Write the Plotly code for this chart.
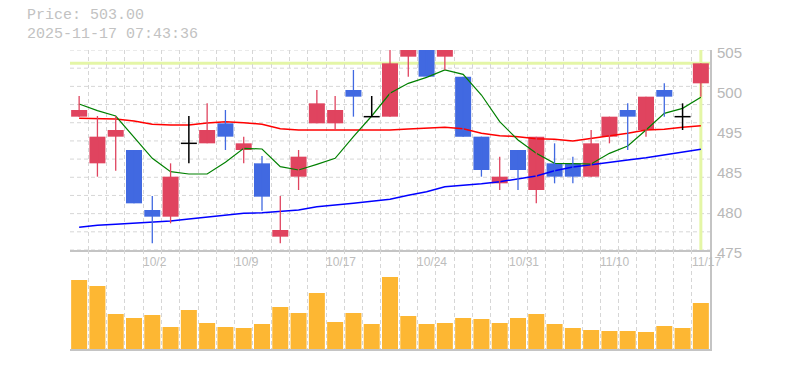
import plotly.graph_objects as go

# ---------------- data ----------------
dates = ["9/26", "9/29", "9/30", "10/1", "10/2", "10/3", "10/6", "10/7", "10/8", "10/9",
         "10/10", "10/14", "10/15", "10/16", "10/17", "10/20", "10/21", "10/22", "10/23", "10/24",
         "10/27", "10/28", "10/29", "10/30", "10/31", "11/4", "11/5", "11/6", "11/7", "11/10",
         "11/11", "11/12", "11/13", "11/14", "11/17"]
label_dates = ["10/2", "10/9", "10/17", "10/24", "10/31", "11/10", "11/17"]

open_ = [495, 488, 492, 490, 481, 480, 491, 491, 494, 490,
         488, 477, 486, 494, 494, 499, 495, 495, 504, 505,
         504, 501, 492, 485, 490, 484, 488, 488, 486, 492,
         496, 493, 499, 495, 500]
high = [498.1, 495.1, 495.1, 490, 483.1, 488, 495.1, 497, 496, 492,
        489.1, 483.1, 490, 499, 498.1, 502, 498.1, 505, 506, 505,
        505, 501, 492, 489, 490, 492, 491, 489, 493, 495,
        497, 498, 500, 497, 503]
low = [495, 486, 486.9, 482, 476, 479, 488, 491, 490, 488,
       480.9, 476, 484, 494, 493, 495, 495, 495, 501, 501,
       502, 492, 486, 484, 484, 482, 485, 485, 486, 491,
       490, 492, 495, 493, 498]
close = [496, 492, 493, 482, 480, 486, 491, 493, 492, 491,
         483, 478, 489, 497, 496, 498, 495, 503, 506, 501,
         505, 492, 487, 486, 487, 492, 486, 486, 491, 495,
         495, 498, 498, 495, 503]

ma5 = [496.9, 495.9, 495.1, 492.0, 488.75, 486.75, 486.4, 486.4, 488.15, 490.25,
       490.15, 487.5, 487.0, 487.85, 488.75, 492.0, 495.1, 498.5, 500.0, 500.9,
       502.0, 501.35, 498.25, 494.25, 491.5, 489.5, 488.0, 487.95, 487.9, 489.5,
       490.6, 493.0, 495.5, 496.25, 497.9]
ma25 = [494.75, 494.75, 494.65, 494.35, 493.85, 493.75, 493.75, 494.05, 494.25, 494.1,
        493.85, 493.2, 493.0, 493.0, 493.0, 492.95, 492.9, 493.0, 493.15, 493.3,
        493.4, 493.2, 492.5, 492.15, 492.0, 491.7, 491.6, 491.35, 491.7, 492.15,
        492.5, 493.0, 493.1, 493.4, 493.65]
ma75 = [478.4, 478.7, 478.85, 479.0, 479.15, 479.35, 479.65, 479.9, 480.25, 480.5,
        480.6, 480.85, 481.0, 481.5, 481.7, 482.0, 482.3, 482.6, 483.2, 483.75,
        484.5, 484.7, 484.95, 485.25, 485.7, 486.1, 486.9, 487.45, 487.8, 488.1,
        488.5, 488.85, 489.25, 489.6, 490.1]

volume = [69000, 63000, 35000, 31000, 34000, 22000, 39000, 26000, 22000, 21000,
          25000, 42000, 36000, 56000, 27000, 36000, 25000, 72000, 33000, 25000,
          26000, 31000, 30000, 26000, 31000, 35000, 25000, 21000, 19000, 18000,
          18000, 17000, 23000, 21000, 46000]

price_ticks = [505, 499, 493, 487, 481, 475]
price_tick_text = ["505", "500", "495", "485", "480", "475"]
timestamp = "2025-11-17 07:43:36"

# ---------------- styles ----------------
UP = "#e0445f"
DOWN = "#4169e1"
DOJI = "#000000"
VOL = "#fdb733"
GRID = "#d6d6d6"
AXIS = "#c4c4c4"
LAST = "#e4f6a6"
BODY_W = 0.875

n = len(dates)
xs = list(range(n))
PMIN, PMAX = 475, 505
VMAX = 99000

fig = go.Figure()

# moving averages
fig.add_trace(go.Scatter(x=xs, y=ma75, mode="lines", line=dict(color="#0000ff", width=1.5),
                         cliponaxis=False, hoverinfo="skip", xaxis="x", yaxis="y"))
fig.add_trace(go.Scatter(x=xs, y=ma25, mode="lines", line=dict(color="#ff0000", width=1.5),
                         cliponaxis=False, hoverinfo="skip", xaxis="x", yaxis="y"))
fig.add_trace(go.Scatter(x=xs, y=ma5, mode="lines", line=dict(color="#008000", width=1.2),
                         cliponaxis=False, hoverinfo="skip", xaxis="x", yaxis="y"))

# candles
groups = {"up": [], "down": [], "doji": []}
for i in xs:
    if close[i] > open_[i]:
        groups["up"].append(i)
    elif close[i] < open_[i]:
        groups["down"].append(i)
    else:
        groups["doji"].append(i)

for key, color in (("up", UP), ("down", DOWN)):
    idx = groups[key]
    wx, wy = [], []
    for i in idx:
        wx += [i, i, None]
        wy += [low[i], high[i], None]
    fig.add_trace(go.Scatter(x=wx, y=wy, mode="lines", line=dict(color=color, width=1.3),
                             cliponaxis=False, hoverinfo="skip", xaxis="x", yaxis="y"))
    fig.add_trace(go.Bar(x=idx,
                         y=[abs(close[i] - open_[i]) for i in idx],
                         base=[min(open_[i], close[i]) for i in idx],
                         width=BODY_W, marker=dict(color=color, line=dict(width=0)),
                         cliponaxis=False, hoverinfo="skip", xaxis="x", yaxis="y"))

dx, dy = [], []
for i in groups["doji"]:
    dx += [i, i, None, i - BODY_W / 2, i + BODY_W / 2, None]
    dy += [low[i], high[i], None, open_[i], open_[i], None]
fig.add_trace(go.Scatter(x=dx, y=dy, mode="lines", line=dict(color=DOJI, width=1.5),
                         cliponaxis=False, hoverinfo="skip", xaxis="x", yaxis="y"))

# volume
fig.add_trace(go.Bar(x=xs, y=volume, width=BODY_W, marker=dict(color=VOL, line=dict(width=0)),
                     hoverinfo="skip", xaxis="x2", yaxis="y2"))

# ---------------- layout ----------------
# page body has an 8px margin, so offsets are reduced by 8px
L, T, PW, PH = 62, 42, 640, 299
boundaries = [i - 0.5 for i in range(n + 1)]
vol_frac = 99 / PH

shapes = []
for k in range(12):
    yv = PMAX - k * (PMAX - PMIN) / 11
    shapes.append(dict(type="line", xref="x", yref="y", x0=-0.5, x1=n - 0.5, y0=yv, y1=yv,
                       line=dict(color=GRID, width=1, dash="4px,3px"), layer="below"))
shapes.append(dict(type="line", xref="x", yref="y", x0=-0.5, x1=n - 0.5,
                   y0=close[-1], y1=close[-1], line=dict(color=LAST, width=3), layer="below"))
shapes.append(dict(type="line", xref="x", yref="y", x0=n - 1, x1=n - 1,
                   y0=PMIN, y1=PMAX, line=dict(color=LAST, width=3), layer="below"))

title_font = dict(family="Liberation Mono, monospace", size=15, color="#c2c2c2")
annotations = [
    dict(text=f"Price: {close[-1]:.2f}", xref="paper", yref="paper", x=-44 / PW, y=(PH + 25) / PH,
         xanchor="left", yanchor="bottom", borderpad=0, showarrow=False, font=title_font),
    dict(text=timestamp, xref="paper", yref="paper", x=-44 / PW, y=(PH + 25) / PH,
         xanchor="left", yanchor="top", borderpad=0, showarrow=False, font=title_font),
]
for d in label_dates:
    i = dates.index(d)
    annotations.append(dict(text=d, xref="x2", yref="y2 domain", x=i - 0.5, y=1,
                            xanchor="left", yanchor="top", xshift=-2, yshift=-3, showarrow=False,
                            font=dict(family="Liberation Sans, Arial, sans-serif", size=12,
                                      color="#bdbdbd")))

axis_x_common = dict(range=[-0.5, n - 0.5], tickmode="array", tickvals=boundaries,
                     showticklabels=False, ticks="", showgrid=True, gridcolor=GRID,
                     griddash="4px,3px", gridwidth=1, zeroline=False, showline=True,
                     linecolor=AXIS, linewidth=2, fixedrange=True)

fig.update_layout(
    width=785, height=370,
    margin=dict(l=L, r=785 - L - PW, t=T, b=370 - T - PH, autoexpand=False),
    paper_bgcolor="white", plot_bgcolor="white",
    showlegend=False, barmode="overlay", hovermode=False,
    xaxis=dict(domain=[0, 1], anchor="y", **axis_x_common),
    xaxis2=dict(domain=[0, 1], anchor="y2", **axis_x_common),
    yaxis=dict(domain=[vol_frac, 1], anchor="x", range=[PMIN, PMAX], side="right",
               tickmode="array", tickvals=price_ticks, ticktext=price_tick_text,
               ticks="", showgrid=False, zeroline=False, showline=True, linecolor=AXIS,
               linewidth=2, ticklabelstandoff=2, ticklabelshift=3,
               tickfont=dict(family="Liberation Sans, Arial, sans-serif", size=15, color="#b8b8b8"),
               fixedrange=True),
    yaxis2=dict(domain=[0, vol_frac], anchor="x2", range=[0, VMAX], side="right",
                showticklabels=False, ticks="", showgrid=False, zeroline=False,
                showline=True, linecolor=AXIS, linewidth=2, fixedrange=True),
    shapes=shapes,
    annotations=annotations,
)

fig.write_html("out.html", config={"displayModeBar": False})
